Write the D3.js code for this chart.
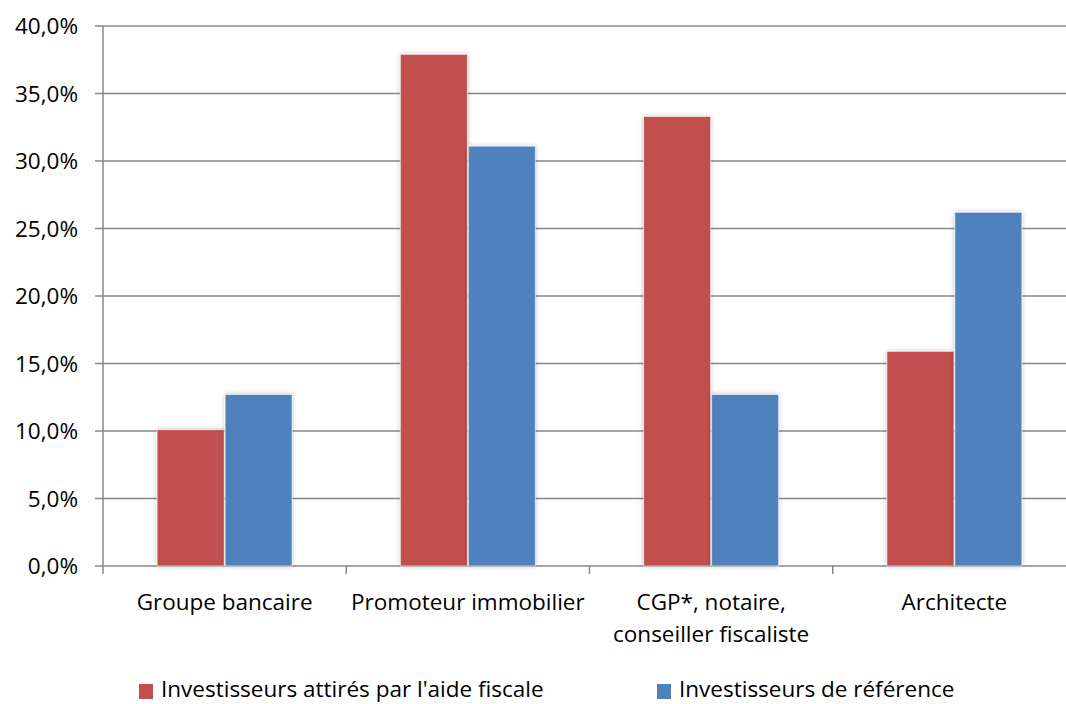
<!DOCTYPE html>
<html><head><meta charset="utf-8">
<script src="https://cdn.jsdelivr.net/npm/d3@7"></script>
<style>body{margin:0;background:#fff}svg text{font-family:"Open Sans",sans-serif;fill:#000}</style>
</head><body><svg id="c" width="1066" height="704"></svg>
<script>
const categories = ["Groupe bancaire", "Promoteur immobilier", "CGP*, notaire,|conseiller fiscaliste", "Architecte"];
const seriesNames = ["Investisseurs attirés par l'aide fiscale", "Investisseurs de référence"];
const attires = [10.1, 37.9, 33.3, 15.9];
const reference = [12.7, 31.1, 12.7, 26.2];
const yTicks = [0, 5, 10, 15, 20, 25, 30, 35, 40];
const colors = ["#C0504D", "#4F81BD"];

(function () {
const svg = d3.select("#c");
const pl = 103, pr = 1076, pt = 26, pb = 566;
const fs = 22.5;
const x = d3.scaleBand().domain(categories).range([pl, pr]);
const x1 = d3.scaleBand().domain([0, 1]).range([0, 136]);
const y = d3.scaleLinear().domain([0, 40]).range([pb, pt]);
const defs = svg.append("defs");
const f = defs.append("filter").attr("id", "sh").attr("x", "-20%").attr("y", "-10%").attr("width", "140%").attr("height", "120%");
f.append("feGaussianBlur").attr("in", "SourceAlpha").attr("stdDeviation", 2.5);
f.append("feComponentTransfer").append("feFuncA").attr("type", "linear").attr("slope", 0.25);
const m = f.append("feMerge"); m.append("feMergeNode"); m.append("feMergeNode").attr("in", "SourceGraphic");

svg.append("g").selectAll("line").data(yTicks).join("line")
  .attr("x1", pl - 8).attr("x2", 1066).attr("y1", d => y(d)).attr("y2", d => y(d))
  .attr("stroke", "#888").attr("stroke-width", 1.5);
svg.append("g").selectAll("text").data(yTicks).join("text")
  .attr("x", 78).attr("y", d => y(d)).attr("dy", "0.36em").attr("text-anchor", "end")
  .attr("font-size", fs).text(d => d.toFixed(1).replace(".", ",") + "%");
svg.append("line").attr("x1", pl).attr("x2", pl).attr("y1", pt).attr("y2", pb + 8).attr("stroke", "#888").attr("stroke-width", 1.5);
svg.append("g").selectAll("line").data(categories).join("line")
  .attr("x1", d => x(d) + x.bandwidth()).attr("x2", d => x(d) + x.bandwidth())
  .attr("y1", pb).attr("y2", pb + 8).attr("stroke", "#888").attr("stroke-width", 1.5);

const data = categories.map((c, i) => ({c, v: [attires[i], reference[i]]}));
const g = svg.append("g");
data.forEach(d => {
  d.v.forEach((v, s) => {
    const bx = x(d.c) + x.bandwidth() / 2 - 68 + x1(s);
    g.append("rect").attr("x", bx + 0.5).attr("y", y(v)).attr("width", x1.bandwidth() - 1).attr("height", pb - y(v))
      .attr("fill", colors[s]).attr("stroke", "#fff").attr("stroke-opacity", 0.6).attr("stroke-width", 1).attr("filter", "url(#sh)");
  });
});
data.forEach(d => {
  const lines = d.c.split("|");
  const t = svg.append("text").attr("text-anchor", "middle").attr("font-size", fs);
  lines.forEach((l, k) => t.append("tspan").attr("x", x(d.c) + x.bandwidth() / 2).attr("y", 610 + k * 32).text(l));
});
const legX = [139, 657];
seriesNames.forEach((n, i) => {
  svg.append("rect").attr("x", legX[i]).attr("y", 684).attr("width", 14).attr("height", 15).attr("fill", colors[i]);
  svg.append("text").attr("x", legX[i] + 22).attr("y", 697).attr("font-size", fs).text(n);
});
})();
</script></body></html>
